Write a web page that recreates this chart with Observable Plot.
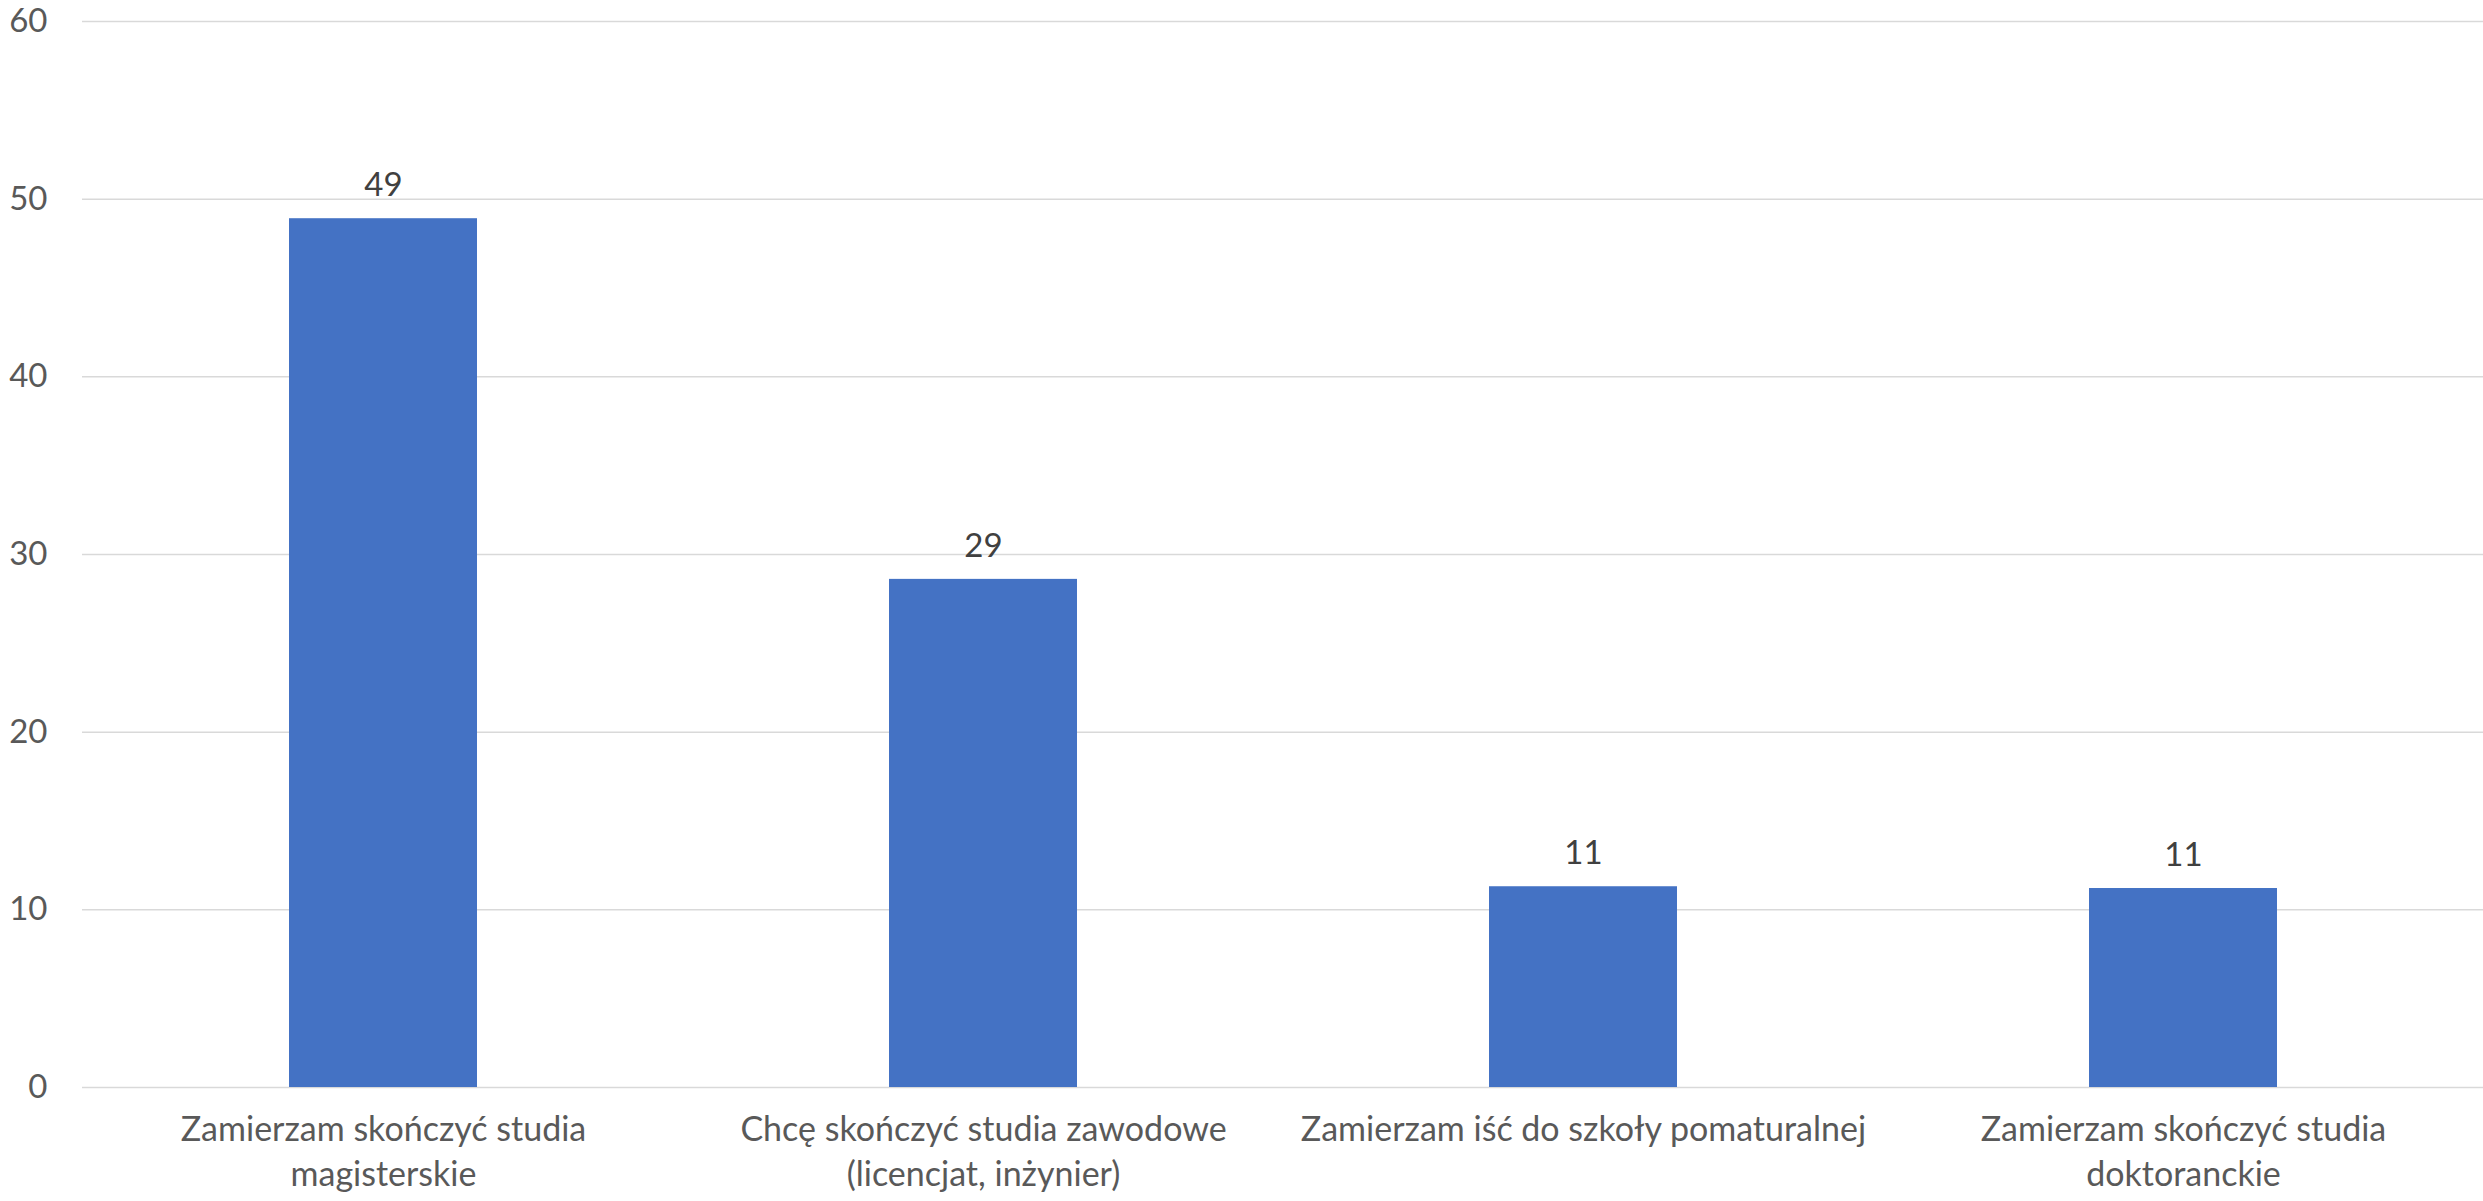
<!DOCTYPE html>
<html>
<head>
<meta charset="utf-8">
<script src="https://cdn.jsdelivr.net/npm/d3@7"></script>
<script src="https://cdn.jsdelivr.net/npm/@observablehq/plot@0.6"></script>
<style>
  html, body { margin: 0; padding: 0; background: #fff; }
  #chart svg { display: block; }
</style>
</head>
<body>
<div id="chart"></div>
<script>
const categories = [
  "Zamierzam skończyć studia\nmagisterskie",
  "Chcę skończyć studia zawodowe\n(licencjat, inżynier)",
  "Zamierzam iść do szkoły pomaturalnej",
  "Zamierzam skończyć studia\ndoktoranckie"
];
const values = [48.9, 28.6, 11.3, 11.2];
const valueLabels = ["49", "29", "11", "11"];
const yTicks = [0, 10, 20, 30, 40, 50, 60];

const data = categories.map((c, i) => ({category: c, value: values[i], label: valueLabels[i]}));

const font = "Lato, 'Open Sans', sans-serif";

const chart = Plot.plot({
  width: 2483,
  height: 1201,
  marginLeft: 82,
  marginRight: 0,
  marginTop: 21,
  marginBottom: 114,
  style: {fontFamily: font, background: "#fff"},
  x: {domain: categories, paddingInner: 0.687, paddingOuter: 0.3435, align: 0.5},
  y: {domain: [0, 60], ticks: yTicks},
  marks: [
    Plot.gridY(yTicks, {stroke: "#d9d9d9", strokeOpacity: 1, strokeWidth: 1.5}),
    Plot.barY(data, {x: "category", y: "value", fill: "#4472C4"}),
    Plot.text(data, {x: "category", y: "value", text: "label", dy: -33, fontSize: 33, fill: "#404040", fontFamily: font}),
    Plot.axisY({ticks: yTicks, tickSize: 0, tickPadding: 35, fontSize: 33, fill: "#595959", label: null, fontFamily: font}),
    Plot.axisX({tickSize: 0, tickPadding: 21, fontSize: 34, fill: "#595959", label: null, lineHeight: 1.33, fontFamily: font})
  ]
});
document.getElementById("chart").appendChild(chart);
</script>
</body>
</html>
